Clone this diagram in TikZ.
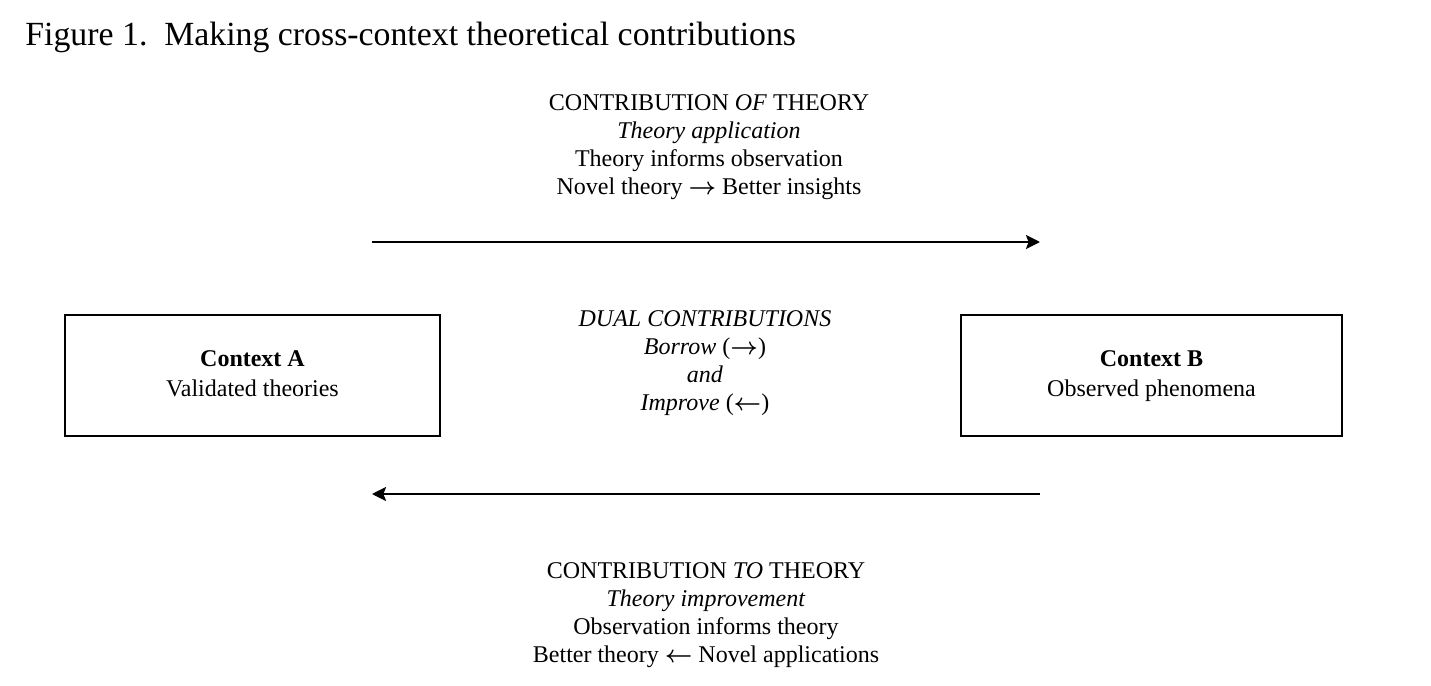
\documentclass[tikz,border=0pt]{standalone}
\usepackage{fontspec}
\setmainfont{Liberation Serif}
\newfontfamily\titlefont{Liberation Serif}
\usepackage{tikz}
\usetikzlibrary{arrows.meta}
\usetikzlibrary{positioning}
\newcommand{\toright}{{\boldmath$\rightarrow$}}
\newcommand{\toleft}{{\boldmath$\leftarrow$}}

\begin{document}
\begin{tikzpicture}[x=0.5pt, y=-0.5pt,
        ctxbox/.style={draw, line width=0.65pt, minimum width=#1, minimum height=60.5pt, align=center, inner sep=0pt, font=\fontsize{12}{15}\selectfont},
        txtblock/.style={align=center, inner sep=0pt, font=\fontsize{12}{14}\selectfont},
        flow/.style={line width=1.2pt, -{Stealth[length=7pt, width=7pt, inset=1.3pt]}}]
            \useasboundingbox (0,0) rectangle (1431,686);
            \node[anchor=base west, inner sep=0pt, font=\titlefont\fontsize{16.9}{20}\selectfont] (title) at (25,45) {Figure 1.\ \ Making cross-context theoretical contributions};
            \node[txtblock] (of) at (709,147) {CONTRIBUTION \textit{OF} THEORY\\ \textit{Theory application}\\ Theory informs observation\\ Novel theory \toright{} Better insights};
            \node[txtblock] (dual) at (705,363) {\textit{DUAL CONTRIBUTIONS}\\ \textit{Borrow} (\toright)\\ \textit{and}\\ \textit{Improve} (\toleft)};
            \node[txtblock] (to) at (706,615) {CONTRIBUTION \textit{TO} THEORY\\ \textit{Theory improvement}\\ Observation informs theory\\ Better theory \toleft{} Novel applications};
            \node[ctxbox=187.5pt] (ctxA) at (252.5,375.5) {\strut\textbf{Context A}\\ \strut Validated theories};
            \node[ctxbox=190.5pt] (ctxB) at (1151.5,375.5) {\strut\textbf{Context B}\\ \strut Observed phenomena};
            \coordinate (ofL) at (372,242);
            \coordinate (ofR) at (1040,242);
            \coordinate (toR) at (1040,494);
            \coordinate (toL) at (372,494);
            \draw[flow] (ofL) -- (ofR);
            \draw[flow] (toR) -- (toL);
        \end{tikzpicture}
\end{document}
